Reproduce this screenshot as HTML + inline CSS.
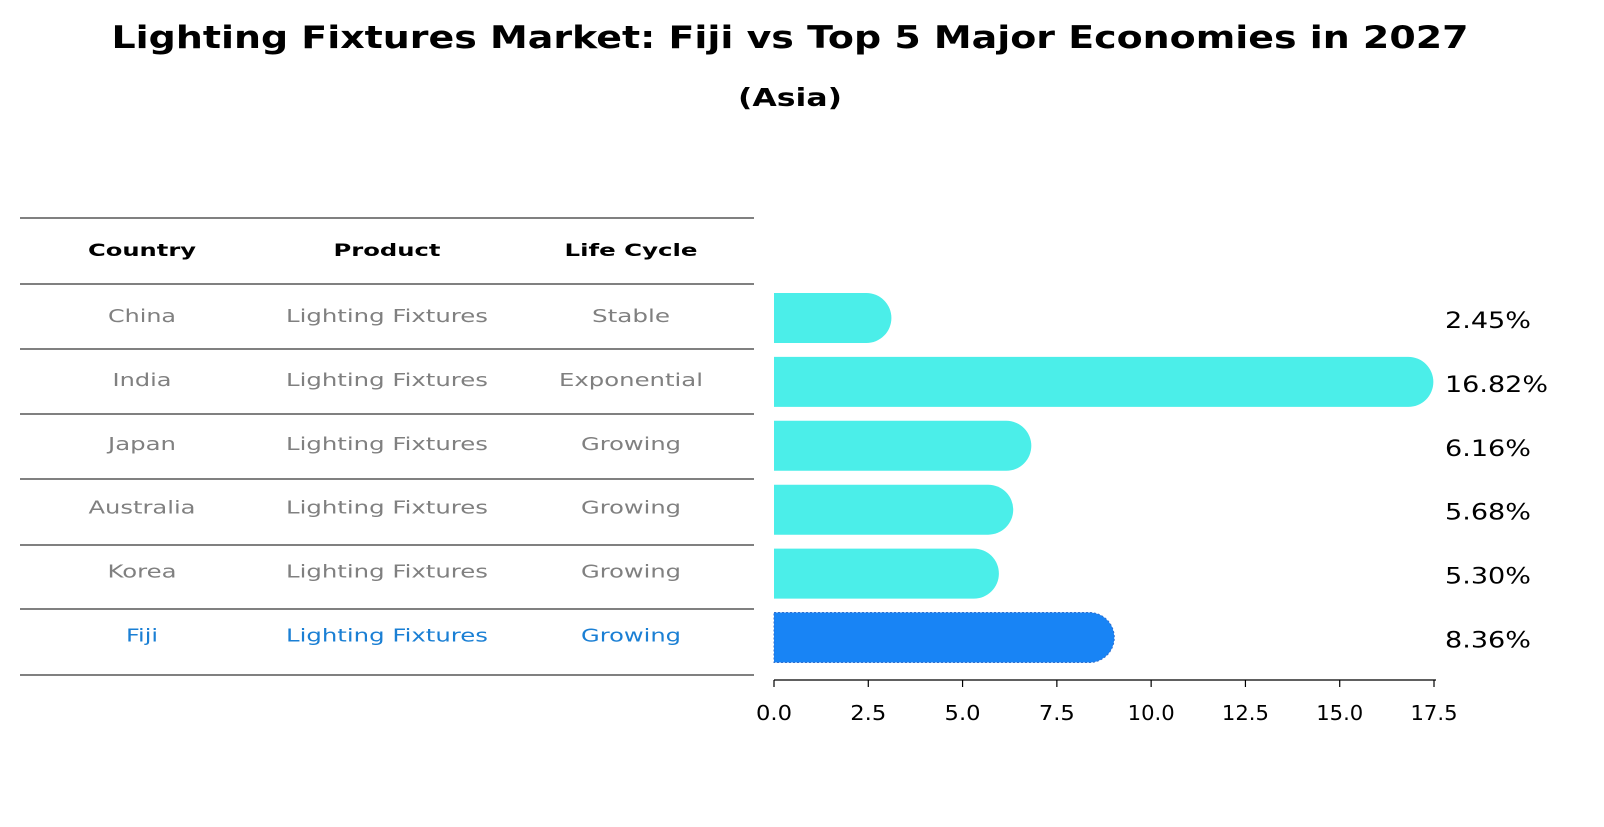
<!DOCTYPE html>
<html><head><meta charset="utf-8"><style>
body{margin:0;background:#fff;font-family:"DejaVu Sans","Liberation Sans",sans-serif;}
svg text{font-family:"DejaVu Sans","Liberation Sans",sans-serif;}
</style></head><body>
<svg id="chart" width="1604" height="823" xmlns="http://www.w3.org/2000/svg">
<rect width="1604" height="823" fill="#fff"/>
<text x="790" y="48" text-anchor="middle" font-size="31" font-weight="bold" textLength="1357" lengthAdjust="spacingAndGlyphs">Lighting Fixtures Market: Fiji vs Top 5 Major Economies in 2027</text>
<text x="790" y="106" text-anchor="middle" font-size="25" font-weight="bold" textLength="104" lengthAdjust="spacingAndGlyphs">(Asia)</text>
<g id="table"></g>
<g id="bars"></g>
</svg>
<script>
const countries=["China","India","Japan","Australia","Korea","Fiji"];
const products=["Lighting Fixtures","Lighting Fixtures","Lighting Fixtures","Lighting Fixtures","Lighting Fixtures","Lighting Fixtures"];
const lifeCycles=["Stable","Exponential","Growing","Growing","Growing","Growing"];
const values=[2.45,16.82,6.16,5.68,5.30,8.36];
const tickLabels=["0.0","2.5","5.0","7.5","10.0","12.5","15.0","17.5"];
const tickValues=[0,2.5,5,7.5,10,12.5,15,17.5];

// rendered text widths measured from reference (styling only)
const textW={"Country":108,"Product":107,"Life Cycle":133,"China":68,"India":59,"Japan":68,"Australia":107,"Korea":69,"Fiji":32,"Lighting Fixtures":202,"Stable":78,"Exponential":144,"Growing":100};

const NS="http://www.w3.org/2000/svg";
function mk(tag,attrs,parent){const e=document.createElementNS(NS,tag);for(const k in attrs)e.setAttribute(k,attrs[k]);parent.appendChild(e);return e;}
const x0=774, xs=(1434-774)/17.5;
const xPos=v=>x0+v*xs;
const yRow=i=>318+i*63.9;
function fit(t,s){if(textW[s]){t.setAttribute('textLength',textW[s]);t.setAttribute('lengthAdjust','spacingAndGlyphs');}}

const tbl=document.getElementById('table');
const lineYs=[218,284,349,414,479,545,609,675];
lineYs.forEach((y,i)=>{const l=mk('line',{x1:20,x2:754,y1:y,y2:y,stroke:'#000','stroke-width':1},tbl);

});
const colX=[142,387,631];
["Country","Product","Life Cycle"].forEach((h,i)=>{const t=mk('text',{x:colX[i],y:256,'text-anchor':'middle','font-size':17,'font-weight':'bold'},tbl);t.textContent=h;fit(t,h);

});
countries.forEach((c,i)=>{const y=yRow(i)+4;const col=c==="Fiji"?"#1a7fd4":"#808080";
[c,products[i],lifeCycles[i]].forEach((v,j)=>{const t=mk('text',{x:colX[j],y:y,'text-anchor':'middle','font-size':18,fill:col},tbl);t.textContent=v;fit(t,v);

});});

const g=document.getElementById('bars');
const h=50,r=25;
values.forEach((v,i)=>{const yc=yRow(i);const xe=xPos(v);const fill=countries[i]==="Fiji"?"#1884f5":"#4beee9";
const p=mk('path',{d:`M${x0},${yc-h/2} L${xe},${yc-h/2} A${r},${r} 0 0 1 ${xe},${yc+h/2} L${x0},${yc+h/2} Z`,fill:fill},g);
if(countries[i]==="Fiji"){p.setAttribute('stroke','#2f6fd0');p.setAttribute('stroke-dasharray','2,2');}


const s=v.toFixed(2)+'%';
const t=mk('text',{x:1445,y:yc+10,'font-size':22,textLength:s.length>5?103:86,lengthAdjust:'spacingAndGlyphs'},g);t.textContent=s;

});
const ax=mk('line',{x1:x0,x2:1436,y1:680,y2:680,stroke:'#000','stroke-width':1.2},g);


tickValues.forEach((v,i)=>{const x=xPos(v);
const tk=mk('line',{x1:x,x2:x,y1:680,y2:687,stroke:'#000','stroke-width':1.2},g);


const lbl=tickLabels[i];
const t=mk('text',{x:x,y:720,'text-anchor':'middle','font-size':20,textLength:lbl.length>3?47:36,lengthAdjust:'spacingAndGlyphs'},g);t.textContent=lbl;

});
</script>
</body></html>
